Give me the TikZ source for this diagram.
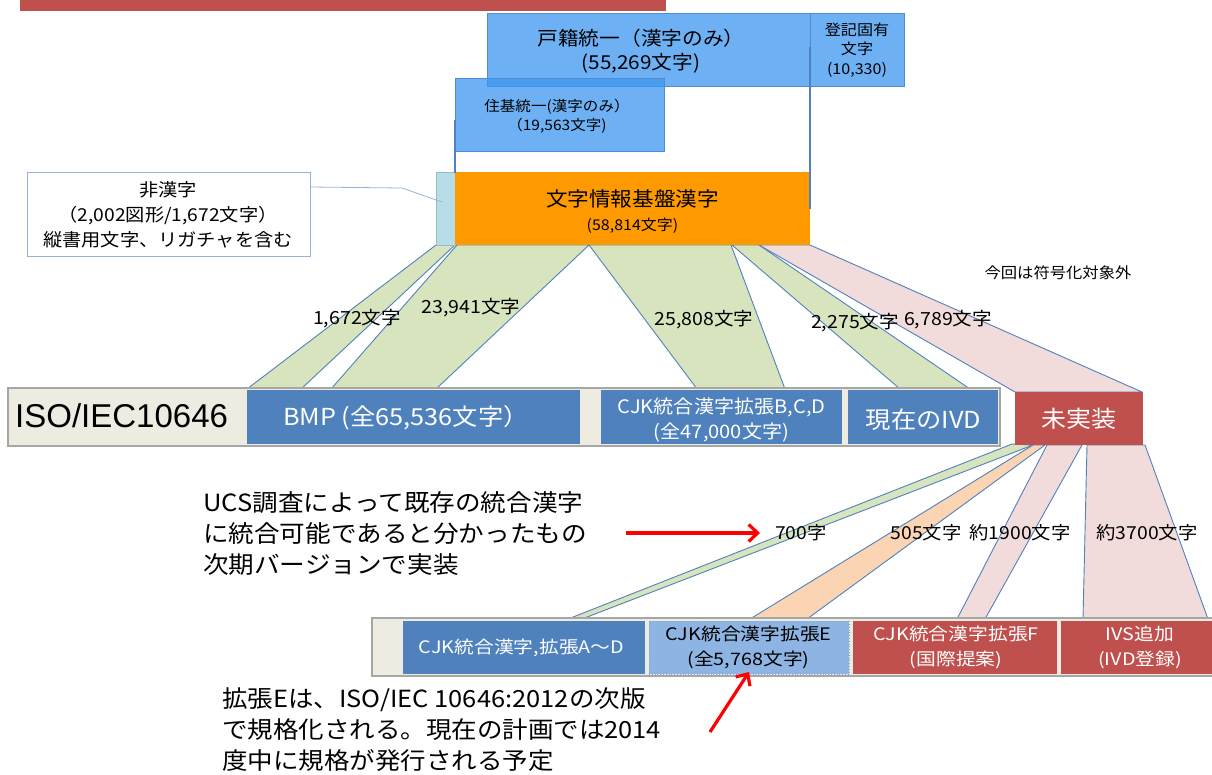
\documentclass[tikz,border=0pt]{standalone}
\usepackage{fontspec}
\setmainfont[FakeStretch=1.08]{Noto Sans CJK JP}
\newfontfamily\jpn[FakeStretch=1.15]{Noto Sans CJK JP}
\newfontfamily\arialf{Liberation Sans}
\usetikzlibrary{arrows.meta}
\definecolor{bannerred}{RGB}{192,80,77}
\definecolor{skyblue}{RGB}{60,150,240}
\definecolor{skyedge}{RGB}{79,140,210}
\definecolor{kjorange}{RGB}{255,153,0}
\definecolor{aqua}{RGB}{183,221,232}
\definecolor{bandgreen}{RGB}{215,228,189}
\definecolor{bandpink}{RGB}{242,220,219}
\definecolor{bandpeach}{RGB}{251,212,180}
\definecolor{bandedge}{RGB}{79,129,189}
\definecolor{barfill}{RGB}{238,236,225}
\definecolor{baredge}{RGB}{166,166,166}
\definecolor{boxblue}{RGB}{79,129,189}
\definecolor{boxred}{RGB}{192,80,77}
\definecolor{boxlight}{RGB}{141,180,226}
\definecolor{calloutedge}{RGB}{149,179,215}
\newcommand{\fs}[2]{\fontsize{#1}{#2}\selectfont}
\begin{document}
\begin{tikzpicture}[x=1pt,y=-1pt,
  rect/.style={anchor=north west, inner sep=0pt, outer sep=0pt},
  skybox/.style={rect, fill=skyblue, fill opacity=0.75, draw=skyedge, line width=0.8pt},
  band/.style={draw=bandedge, line width=0.9pt, line join=round},
  vline/.style={draw=bandedge, line width=1.6pt},
  lbl/.style={inner sep=0pt, font=\fs{18.1}{20}},
  lowlbl/.style={inner sep=0pt, font=\fs{17.9}{20}},
  whitetxt/.style={inner sep=0pt, text=white, align=center},
  bartxt/.style={inner sep=0pt, text=white, align=center, font=\jpn\fs{17.2}{25}},
  redarrow/.style={draw=red, line width=3.2pt, -{Straight Barb[length=9pt,width=17pt]}},
  callout/.style={draw=calloutedge, line width=0.8pt}]
\useasboundingbox (0,0) rectangle (1212,774);

% banner
\node[rect, fill=bannerred, minimum width=646pt, minimum height=11pt] (banner) at (20,0) {};

% upper bands
\path[band, fill=bandgreen] (436,245) -- (455,245) -- (301,389) -- (247,389) -- cycle;
\path[band, fill=bandgreen] (457,245) -- (589,245) -- (436,389) -- (331,389) -- cycle;
\path[band, fill=bandgreen] (589,245) -- (731,245) -- (785,389) -- (697,389) -- cycle;
\path[band, fill=bandgreen] (732,245) -- (759,245) -- (970,389) -- (900,389) -- cycle;
\path[band, fill=bandpink]  (759,245) -- (810,245) -- (1142,392) -- (1015,392) -- cycle;

% lower bands
\path[band, fill=bandgreen] (1012,444) -- (1033,445) -- (582,619) -- (568,619) -- cycle;
\path[band, fill=bandpeach] (1033,445) -- (1045,445) -- (807,619) -- (750,619) -- cycle;
\path[band, fill=bandpink]  (1047,445) -- (1082,445) -- (985,619) -- (957,619) -- cycle;
\path[band, fill=bandpink]  (1087,445) -- (1145,445) -- (1208,619) -- (1083,619) -- cycle;

% top blue boxes
\node[skybox, minimum width=323pt, minimum height=73pt] (koseki) at (487,13) {};
\node[skybox, minimum width=94pt, minimum height=73pt] (toki) at (810,13) {};
\node[skybox, minimum width=209pt, minimum height=73pt] (juki) at (455,78) {};
\node[inner sep=0pt, align=center, font=\fs{19.2}{24}] (kosekit) at (641,51) {戸籍統一（漢字のみ）\\(55,269文字)};
\node[inner sep=0pt, align=center, font=\fs{14.9}{19.5}] (tokit) at (857,50) {登記固有\\文字\\(10,330)};
\node[inner sep=0pt, align=center, font=\fs{14.4}{19}] (jukit) at (557,116.5) {住基統一(漢字のみ）\\（19,563文字)};

% MJ boxes
\node[rect, fill=aqua, draw=aqua!85!black, line width=0.5pt, minimum width=19pt, minimum height=73pt] (nonkanji) at (436,172) {};
\node[rect, fill=kjorange, minimum width=355pt, minimum height=73pt] (mj) at (455,172) {};
\node[inner sep=0pt, align=center, font=\fs{20}{24}] (mjt) at (632.5,211.6) {文字情報基盤漢字\\{\fs{14.8}{24}(58,814文字)}};
\coordinate (v1a) at (455,120); \coordinate (v1b) at (455,173);
\coordinate (v2a) at (810,47);  \coordinate (v2b) at (810,209);
\draw[vline] (v1a) -- (v1b);
\draw[vline] (v2a) -- (v2b);

% callout box
\node[rect, fill=white, draw=calloutedge, line width=0.8pt, minimum width=283pt, minimum height=84pt] (hikanji) at (27,172) {};
\node[inner sep=0pt, align=center, font=\fs{17.8}{25}] (hikanjit) at (168,215) {非漢字\\（2,002図形/1,672文字）\\縦書用文字、リガチャを含む};
\coordinate (c1) at (310,187); \coordinate (c2) at (402,188); \coordinate (c3) at (442,202);
\draw[callout] (c1) -- (c2) -- (c3);

% upper band labels
\node[lbl] (l1672) at (357,319) {1,672文字};
\node[lbl] (l23941) at (471,308) {23,941文字};
\node[lbl] (l25808) at (704,320) {25,808文字};
\node[lbl] (l2275) at (855,323) {2,275文字};
\node[lbl] (l6789) at (948,320) {6,789文字};
\node[inner sep=0pt, font=\fs{15.1}{18}] (notenc) at (1058,273) {今回は符号化対象外};

% ISO bar
\node[rect, fill=barfill, draw=baredge, line width=1.5pt, minimum width=992pt, minimum height=58pt] (iso) at (8,388) {};
\node[anchor=west, inner sep=0pt, font=\arialf\fs{33}{36}] (isot) at (15,416) {ISO/IEC10646};
\node[rect, fill=boxblue, minimum width=333pt, minimum height=54pt] (bmp) at (247,390) {};
\node[whitetxt, font=\fs{23.4}{26}] (bmpt) at (406,418) {BMP (全65,536文字）};
\node[rect, fill=boxblue, minimum width=241pt, minimum height=54pt] (bcd) at (601,390) {};
\node[whitetxt, font=\fs{18.6}{25}] (bcdt) at (721.5,419.5) {CJK統合漢字拡張B,C,D\\(全47,000文字)};
\node[rect, fill=boxblue, minimum width=150pt, minimum height=54pt] (ivd) at (848,390) {};
\node[whitetxt, font=\fs{23.4}{26}] (ivdt) at (923.5,420) {現在のIVD};
\node[rect, fill=boxred, minimum width=128pt, minimum height=53pt] (unimpl) at (1015,392) {};
\node[whitetxt, font=\fs{23.1}{26}] (unimplt) at (1079,419) {未実装};

% lower band labels
\node[lowlbl] (l700) at (801,533) {700字};
\node[lowlbl] (l505) at (926,533) {505文字};
\node[lowlbl] (l1900) at (1020,533) {約1900文字};
\node[lowlbl] (l3700) at (1147,533) {約3700文字};

% lower bar
\node[rect, fill=barfill, draw=baredge, line width=1.5pt, minimum width=845pt, minimum height=58pt] (bar2) at (372,618) {};
\node[rect, fill=boxblue, minimum width=242pt, minimum height=53pt] (extad) at (403,621) {};
\node[bartxt] (extadt) at (521.5,648) {CJK統合漢字,拡張A～D};
\node[rect, fill=boxlight, draw=boxblue!70, dotted, line width=0.8pt, minimum width=200pt, minimum height=53pt] (exte) at (649,621) {};
\node[bartxt, text=black] (extet) at (748.5,647.5) {CJK統合漢字拡張E\\(全5,768文字)};
\node[rect, fill=boxred, minimum width=204pt, minimum height=53pt] (extf) at (853,621) {};
\node[bartxt] (extft) at (956,647.5) {CJK統合漢字拡張F\\(国際提案)};
\node[rect, fill=boxred, minimum width=155pt, minimum height=53pt] (ivs) at (1061,621) {};
\node[bartxt] (ivst) at (1140,647.5) {IVS追加\\(IVD登録)};

% notes
\node[anchor=west, inner sep=0pt, align=left, font=\fs{23.7}{31}] (ucsnote) at (203,534) {UCS調査によって既存の統合漢字\\に統合可能であると分かったもの\\次期バージョンで実装};
\node[anchor=west, inner sep=0pt, align=left, font=\fs{23.6}{31}] (extenote) at (222,730) {拡張Eは、ISO/IEC 10646:2012の次版\\で規格化される。現在の計画では2014\\度中に規格が発行される予定};

% red arrows
\coordinate (ra1) at (626,533); \coordinate (ra1e) at (760,533);
\draw[redarrow] (ra1) -- (ra1e);
\coordinate (ra2) at (710,732);
\draw[redarrow] (ra2) -- ([yshift=2pt]exte.south);
\end{tikzpicture}
\end{document}
